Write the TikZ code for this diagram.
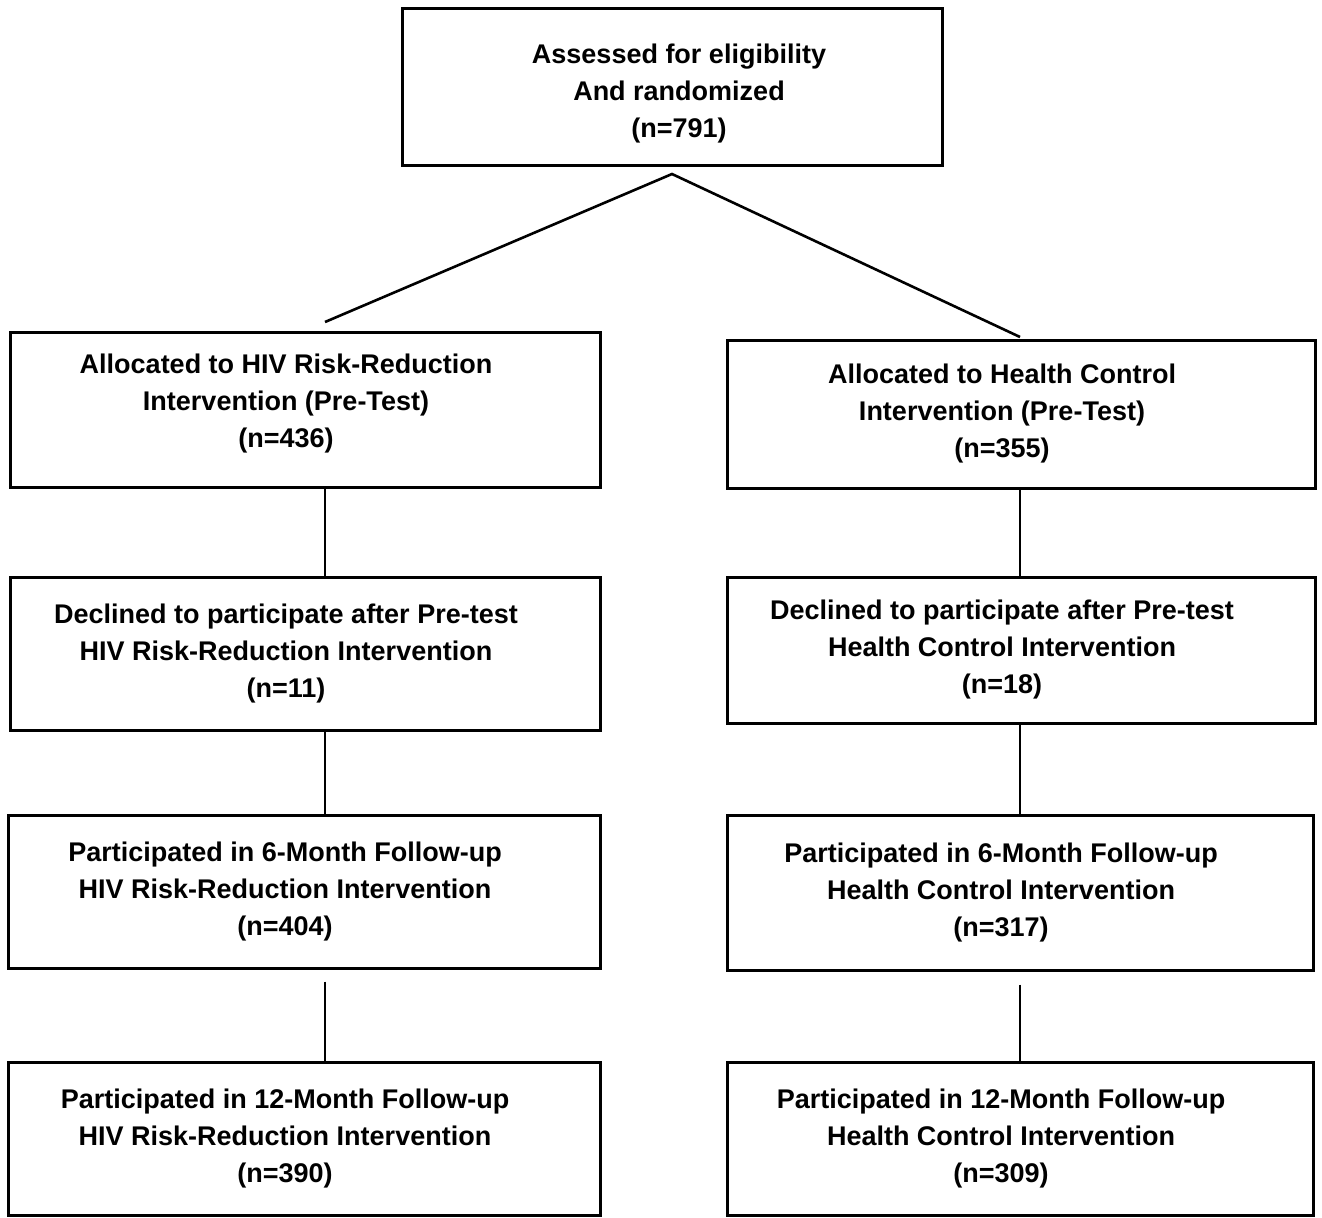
\documentclass[tikz,border=0pt]{standalone}
\usepackage{fontspec}
\setmainfont{Liberation Sans}
\usetikzlibrary{calc}
\begin{document}
\begin{tikzpicture}[x=0.5pt,y=-0.5pt,
  box/.style={draw, line width=1.5pt, inner sep=0pt},
  lab/.style={align=center, inner sep=0pt, xshift=-9.5pt,
    font=\fontsize{13.5}{18.5}\selectfont\bfseries},
  conn/.style={line width=1.3pt}]
\useasboundingbox (0,0) rectangle (1322,1217);
\node[box, minimum width=270pt, minimum height=78.5pt,
  label={[lab, xshift=13pt, yshift=-3.5pt]center:{Assessed for eligibility\\And randomized\\(n=791)}}] (top) at (672,86.5) {};
\node[box, minimum width=295pt, minimum height=77.5pt,
  label={[lab, yshift=3pt]center:{Allocated to HIV Risk-Reduction\\Intervention (Pre-Test)\\(n=436)}}] (l1) at (305,409.5) {};
\node[box, minimum width=294pt, minimum height=74pt,
  label={[lab]center:{Allocated to Health Control\\Intervention (Pre-Test)\\(n=355)}}] (r1) at (1021,414) {};
\node[box, minimum width=295pt, minimum height=76.5pt,
  label={[lab]center:{Declined to participate after Pre-test\\HIV Risk-Reduction Intervention\\(n=11)}}] (l2) at (305,653.5) {};
\node[box, minimum width=294pt, minimum height=73pt,
  label={[lab]center:{Declined to participate after Pre-test\\Health Control Intervention\\(n=18)}}] (r2) at (1021,650) {};
\node[box, minimum width=296pt, minimum height=76.5pt,
  label={[lab]center:{Participated in 6-Month Follow-up\\HIV Risk-Reduction Intervention\\(n=404)}}] (l3) at (304,891.5) {};
\node[box, minimum width=293pt, minimum height=77.5pt,
  label={[lab]center:{Participated in 6-Month Follow-up\\Health Control Intervention\\(n=317)}}] (r3) at (1020,892.5) {};
\node[box, minimum width=296pt, minimum height=76.5pt,
  label={[lab]center:{Participated in 12-Month Follow-up\\HIV Risk-Reduction Intervention\\(n=390)}}] (l4) at (304,1138.5) {};
\node[box, minimum width=293pt, minimum height=76.5pt,
  label={[lab]center:{Participated in 12-Month Follow-up\\Health Control Intervention\\(n=309)}}] (r4) at (1020,1138.5) {};
\coordinate (lx) at (325,0);
\coordinate (rx) at (1020,0);
\coordinate (split) at (672,174);
\coordinate (lend) at (325,322);
\coordinate (rend) at (1020,337);
\draw[conn] (lend) -- (split) -- (rend);
\draw[conn] (l1.south -| lx) -- (l2.north -| lx);
\draw[conn] (l2.south -| lx) -- (l3.north -| lx);
\draw[conn] ($(l3.south -| lx)+(0,12)$) -- (l4.north -| lx);
\draw[conn] (r1.south -| rx) -- (r2.north -| rx);
\draw[conn] (r2.south -| rx) -- (r3.north -| rx);
\draw[conn] ($(r3.south -| rx)+(0,13)$) -- (r4.north -| rx);
\end{tikzpicture}
\end{document}
